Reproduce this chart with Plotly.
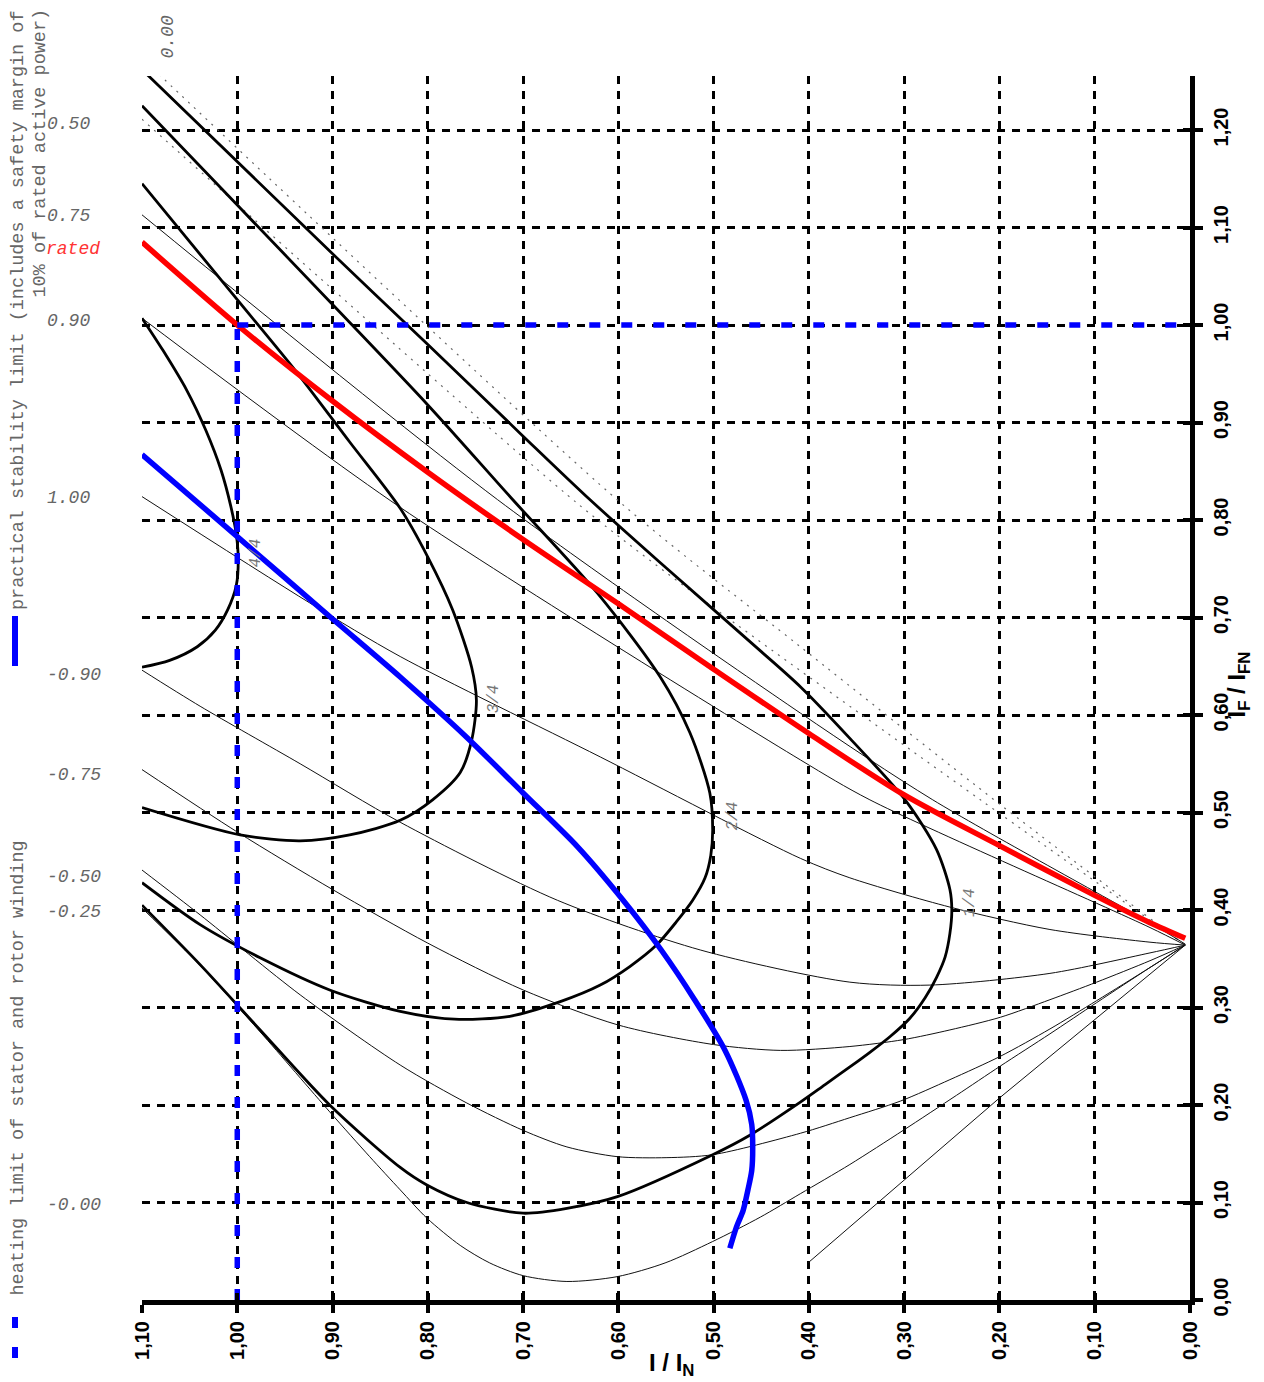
import plotly.graph_objects as go

# ---------------- data: I/I_N (x) vs I_F/I_FN (y) ----------------
X_TICKS = [0.0, 0.1, 0.2, 0.3, 0.4, 0.5, 0.6, 0.7, 0.8, 0.9, 1.0, 1.1]
Y_TICKS = [0.0, 0.1, 0.2, 0.3, 0.4, 0.5, 0.6, 0.7, 0.8, 0.9, 1.0, 1.1, 1.2]

# rated power-factor line
rated_i = [1.10, 1.00, 0.90, 0.80, 0.70, 0.60, 0.50, 0.40, 0.30, 0.20, 0.10, 0.042, 0.005]
rated_f = [1.085, 1.000, 0.922, 0.849, 0.780, 0.714, 0.647, 0.581, 0.518, 0.466, 0.415, 0.387, 0.371]

# practical stability limit
stab_i = [1.100, 1.000, 0.903, 0.829, 0.759, 0.700, 0.643, 0.595, 0.555, 0.520, 0.488, 0.466, 0.460,
          0.459, 0.460, 0.464, 0.469, 0.476, 0.483]
stab_f = [0.867, 0.783, 0.701, 0.639, 0.577, 0.520, 0.465, 0.410, 0.359, 0.308, 0.256, 0.205, 0.180,
          0.157, 0.133, 0.113, 0.092, 0.075, 0.053]

# heating limit of stator (I = 1.0) and rotor (I_F = 1.0)
heat_stator_i = [1.0, 1.0]
heat_stator_f = [0.0, 1.0]
heat_rotor_i = [1.0, 0.0]
heat_rotor_f = [1.0, 1.0]

# constant active power curves (V-curves)
p14_i = [1.100, 0.900, 0.800, 0.700, 0.630, 0.550, 0.450, 0.409, 0.357, 0.299, 0.266, 0.252, 0.250, 0.252,
         0.257, 0.266, 0.278, 0.294, 0.315, 0.336, 0.357, 0.383, 0.409, 0.462, 0.501, 0.601, 0.654, 0.700,
         0.759, 0.801, 0.829, 0.903, 0.976, 1.039, 1.100]
p14_f = [1.262, 1.073, 0.980, 0.886, 0.821, 0.751, 0.665, 0.629, 0.576, 0.513, 0.462, 0.421, 0.400, 0.376,
         0.352, 0.331, 0.310, 0.289, 0.270, 0.254, 0.239, 0.221, 0.203, 0.169, 0.149, 0.106, 0.094, 0.089,
         0.100, 0.118, 0.136, 0.200, 0.277, 0.344, 0.405]

p24_i = [1.100, 1.000, 0.900, 0.800, 0.711, 0.622, 0.556, 0.525, 0.504, 0.501, 0.503, 0.509, 0.522, 0.539,
         0.560, 0.588, 0.619, 0.661, 0.714, 0.772, 0.829, 0.903, 0.976, 1.039, 1.100]
p24_f = [1.225, 1.123, 1.021, 0.918, 0.821, 0.725, 0.639, 0.582, 0.520, 0.482, 0.456, 0.433, 0.410, 0.388,
         0.364, 0.342, 0.323, 0.306, 0.291, 0.288, 0.296, 0.318, 0.351, 0.385, 0.428]

p34_i = [1.100, 1.000, 0.938, 0.882, 0.829, 0.800, 0.774, 0.754, 0.749, 0.754, 0.766, 0.795, 0.829, 0.882,
         0.934, 0.997, 1.100]
p34_f = [1.145, 1.026, 0.952, 0.880, 0.812, 0.762, 0.708, 0.649, 0.615, 0.574, 0.541, 0.513, 0.492, 0.477,
         0.471, 0.477, 0.505]

p44_i = [1.100, 1.078, 1.053, 1.033, 1.017, 1.007, 1.001, 0.999, 1.001, 1.010, 1.023, 1.042, 1.071, 1.100]
p44_f = [1.007, 0.974, 0.933, 0.892, 0.851, 0.815, 0.785, 0.759, 0.733, 0.708, 0.687, 0.670, 0.656, 0.649]

# constant power-factor lines (overexcited)
pf000_i = [1.100, 1.081, 0.598, 0.409, 0.199, 0.005]
pf000_f = [1.274, 1.256, 0.818, 0.670, 0.508, 0.364]
pf050_i = [1.100, 0.643, 0.525, 0.220, 0.005]
pf050_f = [1.211, 0.817, 0.728, 0.513, 0.364]
pf075_i = [1.100, 0.727, 0.409, 0.270, 0.042, 0.005]
pf075_f = [1.113, 0.821, 0.602, 0.513, 0.387, 0.365]
pf090_i = [1.100, 0.829, 0.409, 0.336, 0.042, 0.005]
pf090_f = [1.007, 0.813, 0.554, 0.513, 0.382, 0.364]
pf100_i = [1.100, 0.924, 0.829, 0.619, 0.409, 0.357, 0.252, 0.147, 0.042, 0.005]
pf100_f = [0.824, 0.715, 0.660, 0.557, 0.453, 0.433, 0.403, 0.380, 0.367, 0.364]

# constant power-factor lines (underexcited)
pfm090_i = [1.100, 1.039, 0.934, 0.829, 0.664, 0.514, 0.357, 0.273, 0.147, 0.042, 0.005]
pfm090_f = [0.646, 0.609, 0.550, 0.490, 0.410, 0.359, 0.326, 0.323, 0.335, 0.356, 0.364]
pfm075_i = [1.100, 1.000, 0.900, 0.800, 0.700, 0.600, 0.500, 0.430, 0.357, 0.301, 0.252, 0.199, 0.147,
            0.098, 0.042, 0.005]
pfm075_f = [0.544, 0.480, 0.421, 0.366, 0.318, 0.282, 0.262, 0.256, 0.260, 0.267, 0.277, 0.290, 0.308,
            0.326, 0.348, 0.364]
pfm050_i = [1.100, 1.039, 0.934, 0.829, 0.759, 0.700, 0.654, 0.601, 0.549, 0.501, 0.409, 0.357, 0.304,
            0.252, 0.199, 0.147, 0.098, 0.042, 0.005]
pfm050_f = [0.441, 0.395, 0.313, 0.241, 0.202, 0.174, 0.157, 0.147, 0.146, 0.149, 0.171, 0.187, 0.204,
            0.226, 0.250, 0.278, 0.307, 0.341, 0.364]
pfm025_i = [1.100, 1.039, 0.976, 0.903, 0.861, 0.829, 0.801, 0.766, 0.735, 0.700, 0.654, 0.601, 0.551,
            0.501, 0.451, 0.409, 0.357, 0.301, 0.245, 0.199, 0.147, 0.098, 0.042, 0.005]
pfm025_f = [0.402, 0.343, 0.275, 0.193, 0.147, 0.113, 0.084, 0.056, 0.038, 0.025, 0.019, 0.024, 0.038,
            0.060, 0.085, 0.109, 0.139, 0.174, 0.210, 0.240, 0.273, 0.305, 0.341, 0.364]
pfm000_i = [0.401, 0.199, 0.005]
pfm000_f = [0.038, 0.208, 0.364]

# ---------------- figure geometry ----------------
W, H = 1264, 1382
ML, MR, MT, MB = 142, 74, 76, 82
PW, PH = W - ML - MR, H - MT - MB
X_RANGE = [1.1, 0.0]
Y_RANGE = [0.0, PH / 975.0]


def px(xpix):
    return (xpix - ML) / PW


def py(ypix):
    return (H - MB - ypix) / PH


fig = go.Figure()


def add_line(xs, ys, color, width, dash="solid", shape="spline"):
    fig.add_trace(go.Scatter(x=xs, y=ys, mode="lines",
                             line=dict(color=color, width=width, dash=dash, shape=shape, smoothing=0.8),
                             hoverinfo="skip", showlegend=False))


THIN = "#111111"
DOT = "#666666"

# power-factor lines
add_line(pf000_i, pf000_f, DOT, 1.2, dash="2px,6px")
add_line(pf050_i, pf050_f, DOT, 1.2, dash="2px,6px")
for xs, ys in [(pf075_i, pf075_f), (pf090_i, pf090_f), (pf100_i, pf100_f),
               (pfm090_i, pfm090_f), (pfm075_i, pfm075_f), (pfm050_i, pfm050_f),
               (pfm025_i, pfm025_f)]:
    add_line(xs, ys, THIN, 1)
add_line(pfm000_i, pfm000_f, THIN, 1, shape="linear")

# V-curves
for xs, ys in [(p14_i, p14_f), (p24_i, p24_f), (p34_i, p34_f), (p44_i, p44_f)]:
    add_line(xs, ys, "black", 2.8)

# rated line
add_line(rated_i, rated_f, "#ff0000", 5.5)

# heating limits
add_line(heat_stator_i, heat_stator_f, "#0000ff", 5.5, dash="11px,21px", shape="linear")
add_line(heat_rotor_i, heat_rotor_f, "#0000ff", 5.5, dash="11px,21px", shape="linear")

# stability limit
add_line(stab_i, stab_f, "#0000ff", 5.5)

# empty trace so the overlay axes (inner tick halves) get drawn
fig.add_trace(go.Scatter(x=[0.5], y=[0.5], xaxis="x2", yaxis="y2", mode="markers",
                         marker=dict(opacity=0), hoverinfo="skip", showlegend=False))

tickfont = dict(family="Liberation Sans", size=20, color="black", weight="bold")
axis_common = dict(showgrid=True, gridcolor="black", gridwidth=3, griddash="8px,7px",
                   showline=True, linecolor="black", linewidth=5,
                   ticks="outside", ticklen=8, tickwidth=4, tickcolor="black",
                   zeroline=False, tickformat=".2f", tickangle=-90, tickfont=tickfont)

fig.update_layout(
    xaxis=dict(range=X_RANGE, tickmode="array", tickvals=X_TICKS, ticklabelstandoff=0, **axis_common),
    yaxis=dict(range=Y_RANGE, tickmode="array", tickvals=Y_TICKS, side="right", ticklabelstandoff=1,
               **axis_common),
    xaxis2=dict(range=X_RANGE, overlaying="x", anchor="y2", side="bottom", tickmode="array",
                tickvals=X_TICKS, ticks="inside", ticklen=7, tickwidth=4, tickcolor="black",
                showticklabels=False, showgrid=False, showline=False, zeroline=False),
    yaxis2=dict(range=Y_RANGE, overlaying="y", anchor="x2", side="right", tickmode="array",
                tickvals=Y_TICKS, ticks="inside", ticklen=7, tickwidth=4, tickcolor="black",
                showticklabels=False, showgrid=False, showline=False, zeroline=False),
)

MONO = "Liberation Mono"
GRAY = "#666666"
ann = []

# axis titles
ann.append(dict(text="<b>I / I<sub>N</sub></b>", x=px(671), y=py(1382), xref="paper", yref="paper",
                showarrow=False, font=dict(family="Liberation Sans", size=24, color="black")))
ann.append(dict(text="<b>I<sub>F</sub> / I<sub>FN</sub></b>", x=px(1255), y=py(685), xref="paper", yref="paper",
                showarrow=False, textangle=-90, font=dict(family="Liberation Sans", size=24, color="black")))

# power-factor labels on the left
pf_labels = [("0.50", 124), ("0.75", 216), ("0.90", 321), ("1.00", 498), ("-0.90", 675),
             ("-0.75", 775), ("-0.50", 877), ("-0.25", 912), ("-0.00", 1205)]
for txt, ypix in pf_labels:
    ann.append(dict(text=txt, x=px(45), y=py(ypix), xref="paper", yref="paper", xanchor="left",
                    yanchor="middle", showarrow=False,
                    font=dict(family=MONO, size=18, color=GRAY, style="italic")))
ann.append(dict(text="rated", x=px(44), y=py(249), xref="paper", yref="paper", xanchor="left",
                yanchor="middle", showarrow=False,
                font=dict(family=MONO, size=18, color="#ff3333", style="italic")))
ann.append(dict(text="0.00", x=px(156), y=py(14), xref="paper", yref="paper", textangle=-90,
                showarrow=False, font=dict(family=MONO, size=18, color=GRAY, style="italic")))

# active power labels
for txt, xi, yf in [("4/4", 0.980, 0.766), ("3/4", 0.7306, 0.617), ("2/4", 0.4795, 0.496), ("1/4", 0.231, 0.408)]:
    ann.append(dict(text=txt, x=xi, y=yf, xref="x", yref="y", textangle=-90, showarrow=False,
                    font=dict(family=MONO, size=16, color="#777777", style="italic")))

# legend (vertical)
ann.append(dict(text="practical stability limit (includes a safety margin of", x=px(18), y=py(612),
                xref="paper", yref="paper", textangle=-90, xanchor="center", yanchor="bottom",
                showarrow=False, font=dict(family=MONO, size=18.5, color=GRAY)))
ann.append(dict(text="10% of rated active power)", x=px(40), y=py(7),
                xref="paper", yref="paper", textangle=-90, xanchor="center", yanchor="top",
                showarrow=False, font=dict(family=MONO, size=18.5, color=GRAY)))
ann.append(dict(text="heating limit of stator and rotor winding", x=px(18), y=py(1298),
                xref="paper", yref="paper", textangle=-90, xanchor="center", yanchor="bottom",
                showarrow=False, font=dict(family=MONO, size=18.5, color=GRAY)))

shapes = [
    dict(type="line", xref="paper", yref="paper", x0=px(15), x1=px(15), y0=py(616), y1=py(666),
         line=dict(color="#0000ff", width=6)),
    dict(type="line", xref="paper", yref="paper", x0=px(15), x1=px(15), y0=py(1317), y1=py(1328),
         line=dict(color="#0000ff", width=6)),
    dict(type="line", xref="paper", yref="paper", x0=px(15), x1=px(15), y0=py(1347), y1=py(1358),
         line=dict(color="#0000ff", width=6)),
]

fig.update_layout(width=W, height=H, margin=dict(l=ML, r=MR, t=MT, b=MB, autoexpand=False),
                  paper_bgcolor="white", plot_bgcolor="white", showlegend=False,
                  separators=",.", annotations=ann, shapes=shapes)

fig.write_html("out.html")
